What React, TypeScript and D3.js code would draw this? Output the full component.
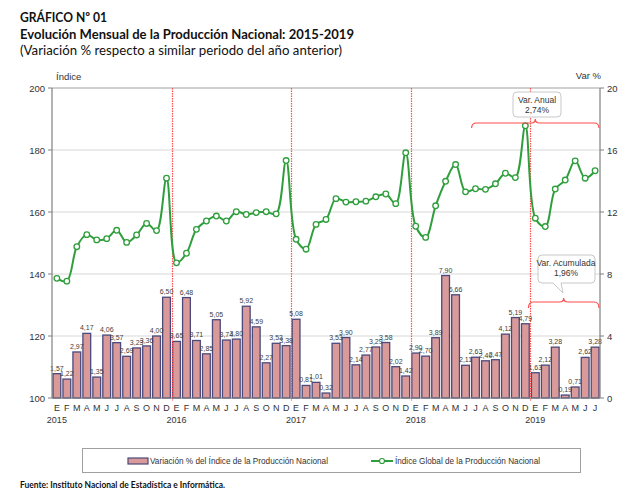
import React from 'react';
import * as d3 from 'd3';

const monthLetters = ['E', 'F', 'M', 'A', 'M', 'J', 'J', 'A', 'S', 'O', 'N', 'D'];
const years = [2015, 2016, 2017, 2018, 2019];

// Variación % del Índice de la Producción Nacional (right axis)
const variacion = [
  1.57, 1.22, 2.97, 4.17, 1.35, 4.06, 3.57, 2.69, 3.23, 3.36, 4.0, 6.5,
  3.65, 6.48, 3.71, 2.85, 5.05, 3.74, 3.8, 5.92, 4.59, 2.27, 3.53, 3.38,
  5.08, 0.81, 1.01, 0.32, 3.53, 3.9, 2.14, 2.77, 3.29, 3.58, 2.02, 1.42,
  2.9, 2.7, 3.89, 7.9, 6.66, 2.11, 2.63, 2.4, 2.47, 4.12, 5.19, 4.79,
  1.63, 2.12, 3.28, 0.19, 0.71, 2.62, 3.28,
];

// Índice Global de la Producción Nacional (left axis)
const indice = [
  138.6, 137.7, 148.8, 152.7, 151.0, 151.4, 154.1, 150.2, 152.6, 156.3, 154.0, 170.9,
  143.6, 146.7, 154.4, 157.1, 158.7, 157.1, 160.1, 159.2, 159.8, 160.1, 159.4, 176.6,
  151.2, 148.0, 156.0, 157.6, 164.3, 163.2, 163.3, 163.5, 164.9, 165.8, 162.7, 179.1,
  155.4, 151.8, 162.0, 169.9, 175.3, 166.5, 167.5, 167.3, 169.1, 172.5, 171.1, 187.8,
  158.0, 155.3, 167.4, 170.3, 176.5, 170.9, 173.3,
];

const leftTicks = [100, 120, 140, 160, 180, 200];
const rightTicks = [0, 4, 8, 12, 16, 20];

const W = 640;
const H = 494;
const M = { left: 52, right: 600, top: 88, bottom: 398 };

const chartFont = '"Liberation Sans", Arial, sans-serif';
const titleFont = 'Lato, "Open Sans", sans-serif';

const fmt = (v: number) => d3.format('.2f')(v).replace('.', ',');

export default function App() {
  const idx = d3.range(variacion.length);
  const x = d3
    .scaleBand<number>()
    .domain(idx)
    .range([M.left, M.right])
    .paddingInner(0.22)
    .paddingOuter(0.1);
  const cx = (i: number) => (x(i) as number) + x.bandwidth() / 2;
  const yL = d3.scaleLinear().domain([100, 200]).range([M.bottom, M.top]);
  const yR = d3.scaleLinear().domain([0, 20]).range([M.bottom, M.top]);

  const line = d3
    .line<number>()
    .x((_, i) => cx(i))
    .y((d) => yL(d))
    .curve(d3.curveCatmullRom.alpha(0.5));

  const barFill = '#d99a99';
  const barStroke = '#4a4a7c';
  const green = '#2f9e3c';
  const red = '#ff4d4d';

  // year boundaries
  const boundaries = [12, 24, 36, 48].map((i) => Math.round((cx(i - 1) + cx(i)) / 2) + 0.5);

  // braces
  const brace = (x1: number, x2: number, y: number, d: number) => {
    const mid = (x1 + x2) / 2;
    return `M${x1},${y + d} Q${x1},${y} ${x1 + 5},${y} L${mid - 4},${y} Q${mid},${y} ${mid},${y - 4} Q${mid},${y} ${mid + 4},${y} L${x2 - 5},${y} Q${x2},${y} ${x2},${y + d}`;
  };
  const b1x1 = x(42) as number;
  const b1x2 = (x(54) as number) + x.bandwidth();
  const b2x1 = (x(48) as number) - 3;
  const b2x2 = (x(54) as number) + x.bandwidth();

  const callout = (bx: number, by: number, bw: number, bh: number, tipX: number, tipY: number) => {
    const r = 4;
    const t1 = tipX - 10;
    const t2 = tipX - 2;
    return `M${bx + r},${by} L${bx + bw - r},${by} Q${bx + bw},${by} ${bx + bw},${by + r} L${bx + bw},${by + bh - r} Q${bx + bw},${by + bh} ${bx + bw - r},${by + bh} L${t2},${by + bh} L${tipX},${tipY} L${t1},${by + bh} L${bx + r},${by + bh} Q${bx},${by + bh} ${bx},${by + bh - r} L${bx},${by + r} Q${bx},${by} ${bx + r},${by} Z`;
  };

  return (
    <svg
      width={W}
      height={H}
      style={{ position: 'absolute', left: 0, top: 0, background: '#fff' }}
    >
      <rect x={0} y={0} width={W} height={H} fill="#fff" />
      {/* Titles */}
      <text x={20} y={22} fontFamily={titleFont} fontWeight="bold" fontSize={13.5} fill="#111" textLength={87} lengthAdjust="spacingAndGlyphs">
        GRÁFICO Nº 01
      </text>
      <text x={20} y={39} fontFamily={titleFont} fontWeight="bold" fontSize={13.5} fill="#111" textLength={334} lengthAdjust="spacingAndGlyphs">
        Evolución Mensual de la Producción Nacional: 2015-2019
      </text>
      <text x={20} y={55} fontFamily={titleFont} fontSize={13.5} fill="#111" textLength={322} lengthAdjust="spacingAndGlyphs">
        (Variación % respecto a similar periodo del año anterior)
      </text>

      {/* axis titles */}
      <text x={56} y={80} fontFamily={chartFont} fontSize={9.5} fill="#333">Índice</text>
      <text x={601} y={79} fontFamily={chartFont} fontSize={9.5} fill="#333" textAnchor="end">Var %</text>

      {/* gridlines */}
      {leftTicks.filter((t) => t > 100).map((t) => (
        <line key={t} x1={M.left} x2={M.right} y1={yL(t)} y2={yL(t)} stroke={t === 200 ? '#a0a0a0' : '#d8d8d8'} strokeWidth={1} />
      ))}

      {/* bars */}
      {variacion.map((v, i) => (
        <rect
          key={i}
          x={x(i)}
          y={yR(v)}
          width={x.bandwidth()}
          height={yR(0) - yR(v)}
          fill={barFill}
          stroke={barStroke}
          strokeWidth={1.3}
        />
      ))}

      {/* year boundaries */}
      {boundaries.map((bx, i) => (
        <line key={i} x1={bx} x2={bx} y1={M.top} y2={M.bottom + 3} stroke={red} strokeWidth={1.2} strokeDasharray="1.5,1" />
      ))}

      {/* bar labels */}
      {variacion.map((v, i) => (
        <text
          key={i}
          x={cx(i)}
          y={yR(v) - 3}
          textAnchor="middle"
          fontFamily={chartFont}
          fontSize={7}
          fill="#404040"
        >
          {fmt(v)}
        </text>
      ))}

      {/* index line */}
      <path d={line(indice) as string} fill="none" stroke={green} strokeWidth={2} />
      {indice.map((v, i) => (
        <circle key={i} cx={cx(i)} cy={yL(v)} r={2.8} fill="#fff" stroke={green} strokeWidth={1.3} />
      ))}

      {/* axes */}
      <line x1={M.left} x2={M.left} y1={M.top} y2={M.bottom} stroke="#808080" strokeWidth={1.2} />
      <line x1={M.right} x2={M.right} y1={M.top} y2={M.bottom} stroke="#808080" strokeWidth={1.2} />
      <line x1={M.left} x2={M.right} y1={M.bottom} y2={M.bottom} stroke="#808080" strokeWidth={1.2} />
      {leftTicks.map((t) => (
        <g key={t}>
          <line x1={M.left - 4} x2={M.left} y1={yL(t)} y2={yL(t)} stroke="#808080" />
          <text x={M.left - 7} y={yL(t) + 3.5} textAnchor="end" fontFamily={chartFont} fontSize={9.5} fill="#333">
            {t}
          </text>
        </g>
      ))}
      {rightTicks.map((t) => (
        <g key={t}>
          <line x1={M.right} x2={M.right + 4} y1={yR(t)} y2={yR(t)} stroke="#808080" />
          <text x={M.right + 7} y={yR(t) + 3.5} textAnchor="start" fontFamily={chartFont} fontSize={9.5} fill="#333">
            {t}
          </text>
        </g>
      ))}

      {/* x labels */}
      {idx.map((i) => (
        <text key={i} x={cx(i)} y={411} textAnchor="middle" fontFamily={chartFont} fontSize={9} fill="#333">
          {monthLetters[i % 12]}
        </text>
      ))}
      {years.map((yv, k) => (
        <text key={yv} x={cx(k * 12)} y={423} textAnchor="middle" fontFamily={chartFont} fontSize={9} fill="#333">
          {yv}
        </text>
      ))}

      {/* annotations */}
      <path d={brace(b1x1, b1x2, 123, 5)} fill="none" stroke={red} strokeWidth={1.2} />
      <rect x={513} y={92} width={48} height={25} rx={4} fill="#fff" stroke="#c8c8c8" />
      <text x={537} y={103} textAnchor="middle" fontFamily={chartFont} fontSize={8.5} fill="#333">Var. Anual</text>
      <text x={537} y={113} textAnchor="middle" fontFamily={chartFont} fontSize={8.5} fill="#333">2,74%</text>

      <path d={brace(b2x1, b2x2, 302, 6)} fill="none" stroke={red} strokeWidth={1.2} />
      <path d={callout(538, 255, 57, 28, 563, 293)} fill="#fff" stroke="#c8c8c8" />
      <text x={566} y={266} textAnchor="middle" fontFamily={chartFont} fontSize={8.5} fill="#333">Var. Acumulada</text>
      <text x={566} y={276} textAnchor="middle" fontFamily={chartFont} fontSize={8.5} fill="#333">1,96%</text>

      {/* legend */}
      <rect x={82.5} y={448.5} width={498} height={24} fill="#fff" stroke="#a0a0a0" />
      <rect x={128} y={458} width={20} height={6} fill={barFill} stroke={barStroke} strokeWidth={1.2} />
      <text x={150} y={464} fontFamily={chartFont} fontSize={9.5} fill="#333" textLength={178} lengthAdjust="spacingAndGlyphs">
        Variación % del Índice de la Producción Nacional
      </text>
      <line x1={371} x2={393} y1={461} y2={461} stroke={green} strokeWidth={2} />
      <circle cx={382} cy={461} r={2.5} fill="#fff" stroke={green} strokeWidth={1.2} />
      <text x={395} y={464} fontFamily={chartFont} fontSize={9.5} fill="#333" textLength={145} lengthAdjust="spacingAndGlyphs">
        Índice Global de la Producción Nacional
      </text>

      {/* source */}
      <text x={20} y={488} fontFamily={titleFont} fontWeight="bold" fontSize={9} fill="#111" textLength={205} lengthAdjust="spacingAndGlyphs">
        Fuente: Instituto Nacional de Estadística e Informática.
      </text>
    </svg>
  );
}
